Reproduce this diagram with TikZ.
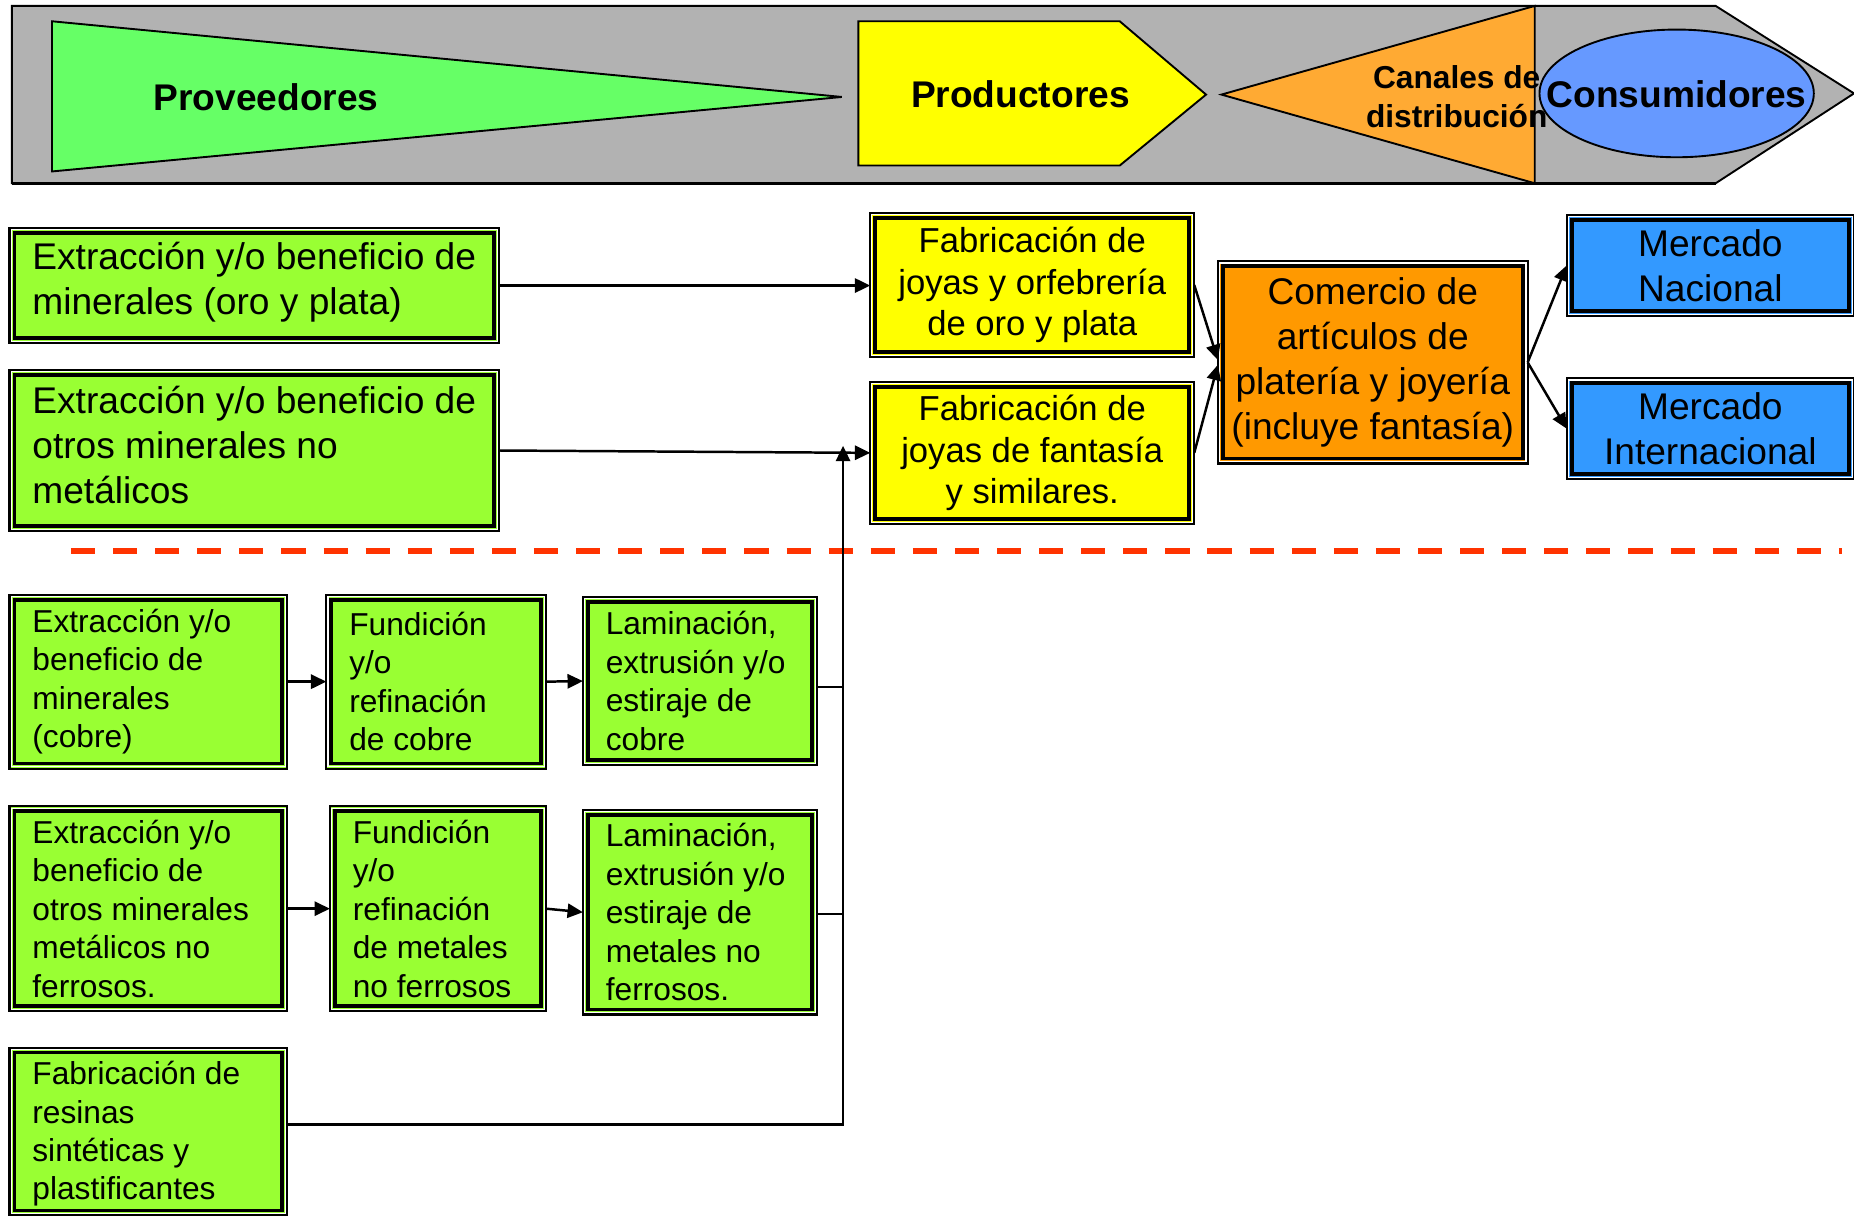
\documentclass[tikz,border=0pt]{standalone}
\usepackage{fontspec}
\setmainfont{Liberation Sans}
\usetikzlibrary{arrows.meta,shapes.geometric,calc}
\definecolor{bgreen}{HTML}{99FF33}
\definecolor{byellow}{HTML}{FFFF00}
\definecolor{borange}{HTML}{FF9900}
\definecolor{bblue}{HTML}{3399FF}
\definecolor{bangray}{HTML}{B2B2B2}
\definecolor{trigreen}{HTML}{66FF66}
\definecolor{triorange}{HTML}{FFAA33}
\definecolor{ellblue}{HTML}{6699FF}
\definecolor{sepred}{HTML}{FF3300}
\tikzset{
  sz/.style 2 args={minimum width=#1, minimum height=#2},
  box/.style={rectangle, draw=black, line width=0.9pt, outer sep=0pt, inner sep=0pt, anchor=north west,
    path picture={
      \draw[white, line width=0.45pt] ([shift={(0.7pt,-0.7pt)}]path picture bounding box.north west) rectangle ([shift={(-0.7pt,0.7pt)}]path picture bounding box.south east);
      \draw[black, line width=1.6pt] ([shift={(2.1pt,-2.1pt)}]path picture bounding box.north west) rectangle ([shift={(-2.1pt,2.1pt)}]path picture bounding box.south east);
    }},
  gbox/.style={box, fill=bgreen},
  ybox/.style={box, fill=byellow, align=center, font=\fontsize{14.65}{17.5}\selectfont},
  obox/.style={box, fill=borange, align=center, font=\fontsize{15.7}{19}\selectfont},
  bbox/.style={box, fill=bblue, align=center, font=\fontsize{15.7}{19}\selectfont},
  bigtxt/.style={anchor=west, align=left, inner sep=0pt, font=\fontsize{15.7}{19}\selectfont},
  smalltxt/.style={anchor=west, align=left, inner sep=0pt, font=\fontsize{13.4}{16.25}\selectfont},
  bantxt/.style={inner sep=0pt, font=\bfseries\fontsize{15.7}{19}\selectfont},
  ln/.style={draw=black, line width=1.05pt},
  arr/.style={ln, -{Triangle[length=6.5pt,width=6pt]}},
  sepline/.style={draw=sepred, line width=2.5pt, dash pattern=on 10.2pt off 7.6pt},
}
\begin{document}
\begin{tikzpicture}[x=0.5pt,y=-0.5pt]
\clip (0,0) rectangle (1568,1028);
\fill[white] (0,0) rectangle (1568,1028);
% banner
\draw[fill=bangray, line width=0.8pt] (10,5) -- (1451,5) -- (1568,79) -- (1451,155) -- (10,155) -- cycle;
\draw[line width=1.4pt] (10,155) -- (1451,155);
\draw[fill=trigreen, line width=0.8pt] (44,18) -- (712,82) -- (44,145) -- cycle;
\node[bantxt] (prov) at (225,82) {Proveedores};
\draw[fill=byellow, line width=0.8pt] (726,18) -- (947,18) -- (1020,80) -- (947,140) -- (726,140) -- cycle;
\node[bantxt] (prod) at (863,80) {Productores};
\draw[fill=triorange, line width=0.8pt] (1033,80) -- (1298,5) -- (1298,155) -- cycle;
\node[inner sep=0pt, align=center, font=\bfseries\fontsize{13.4}{16.5}\selectfont] (canal) at (1232,82) {Canales de\\distribución};
\draw[fill=ellblue, line width=0.8pt] (1418,79) ellipse [x radius=116, y radius=54];
\node[bantxt] (cons) at (1418,80) {Consumidores};

% upper green boxes
\node[gbox, sz={207pt}{48.5pt}] (g1) at (8,193) {};
\node[bigtxt] (g1t) at ([xshift=9.5pt,yshift=1.5pt]g1.west) {Extracción y/o beneficio de\\minerales (oro y plata)};
\node[gbox, sz={207pt}{68pt}] (g2) at (8,313) {};
\node[bigtxt] (g2t) at ([xshift=9.5pt,yshift=2.5pt]g2.west) {Extracción y/o beneficio de\\otros minerales no\\metálicos};

% producers
\node[ybox, sz={137pt}{61pt}] (y1) at (736,180) {Fabricación de\\joyas y orfebrería\\de oro y plata};
\node[ybox, sz={137pt}{60pt}] (y2) at (736,323) {Fabricación de\\joyas de fantasía\\y similares.};

% commerce
\node[obox, sz={131pt}{85.5pt}] (o) at (1030,221) {Comercio de\\artículos de\\platería y joyería\\(incluye fantasía)};

% markets
\node[bbox, sz={121.5pt}{42.5pt}] (b1) at (1325,182) {Mercado\\Nacional};
\node[bbox, sz={121.5pt}{42.5pt}] (b2) at (1325,320) {Mercado\\Internacional};

% separator
\draw[sepline] (60,466) -- (1558,466);

% lower boxes
\node[gbox, sz={117.5pt}{73.5pt}] (l1a) at (8,503) {};
\node[smalltxt] (l1at) at ([xshift=9.5pt]l1a.west) {Extracción y/o\\beneficio de\\minerales\\(cobre)};
\node[gbox, sz={93pt}{73.5pt}] (l1b) at (276,503) {};
\node[smalltxt] (l1bt) at ([xshift=9.5pt]l1b.west) {Fundición\\y/o\\refinación\\de cobre};
\node[gbox, sz={99pt}{71pt}] (l1c) at (493,505) {};
\node[smalltxt] (l1ct) at ([xshift=9.5pt]l1c.west) {Laminación,\\extrusión y/o\\estiraje de\\cobre};

\node[gbox, sz={117.5pt}{86.5pt}] (l2a) at (8,682) {};
\node[smalltxt] (l2at) at ([xshift=9.5pt]l2a.west) {Extracción y/o\\beneficio de\\otros minerales\\metálicos no\\ferrosos.};
\node[gbox, sz={91.5pt}{86.5pt}] (l2b) at (279,682) {};
\node[smalltxt] (l2bt) at ([xshift=9.5pt]l2b.west) {Fundición\\y/o\\refinación\\de metales\\no ferrosos};
\node[gbox, sz={99pt}{86.5pt}] (l2c) at (493,685) {};
\node[smalltxt] (l2ct) at ([xshift=9.5pt]l2c.west) {Laminación,\\extrusión y/o\\estiraje de\\metales no\\ferrosos.};

\node[gbox, sz={117.5pt}{71pt}] (l3) at (8,886) {};
\node[smalltxt] (l3t) at ([xshift=9.5pt,yshift=-1pt]l3.west) {Fabricación de\\resinas\\sintéticas y\\plastificantes};

% connectors
\coordinate (jn) at (713,377);
\draw[arr] (g1.east) -- (g1.east -| y1.west);
\draw[arr] (g2.east) -- (y2.west);
\draw[arr] ([yshift=3pt]l3.east) -- ([yshift=3pt]l3.east -| jn) -- (jn);
\draw[ln] ([yshift=-2.5pt]l1c.east) -- ([yshift=-2.5pt]l1c.east -| jn);
\draw[ln] ([yshift=-0.75pt]l2c.east) -- ([yshift=-0.75pt]l2c.east -| jn);
\draw[arr] (l1a.east) -- (l1b.west);
\draw[arr] (l1b.east) -- (l1c.west);
\draw[arr] (l2a.east) -- (l2b.west);
\draw[arr] (l2b.east) -- (l2c.west);
\draw[arr] (y1.east) -- ([yshift=1pt]o.west);
\draw[arr] (y2.east) -- ([yshift=-1pt]o.west);
\draw[arr] (o.east) -- (b1.west);
\draw[arr] (o.east) -- (b2.west);
\end{tikzpicture}
\end{document}
